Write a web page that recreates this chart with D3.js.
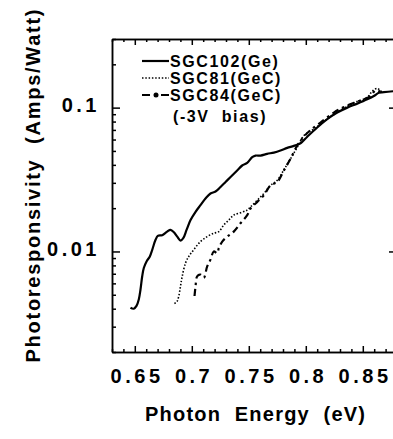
<!DOCTYPE html>
<html>
<head>
<meta charset="utf-8">
<script src="https://cdn.jsdelivr.net/npm/d3@7"></script>
<style>
  body { margin: 0; background: #fff; }
  svg { display: block; }
  text { font-family: "Liberation Sans", Arial, Helvetica, sans-serif; font-weight: bold; fill: #000; }
  .axis path, .axis line { stroke: #000; stroke-width: 1.5; }
</style>
</head>
<body>
<div id="chart"></div>
<script>
// photon energy (eV) / photoresponsivity (A/W)
var ge102_x = [0.6462, 0.6491, 0.6515, 0.6535, 0.6550, 0.6565, 0.6579, 0.6603, 0.6632, 0.6653, 0.6682, 0.6702, 0.6740, 0.6784, 0.6813, 0.6843, 0.6872, 0.6902, 0.6925, 0.6954, 0.6989, 0.7033, 0.7076, 0.7120, 0.7164, 0.7208, 0.7252, 0.7296, 0.7340, 0.7398, 0.7442, 0.7486, 0.7530, 0.7559, 0.7603, 0.7661, 0.7720, 0.7778, 0.7837, 0.7895, 0.7954, 0.8013, 0.8100, 0.8188, 0.8276, 0.8364, 0.8451, 0.8539, 0.8597, 0.8641, 0.8685, 0.8767];
var ge102_y = [0.00406, 0.0040, 0.00418, 0.00464, 0.00544, 0.00672, 0.00768, 0.00853, 0.00924, 0.01027, 0.01205, 0.01283, 0.01298, 0.01374, 0.01412, 0.0136, 0.01268, 0.0119, 0.01236, 0.01412, 0.01655, 0.01888, 0.0210, 0.02335, 0.0253, 0.0261, 0.0281, 0.0304, 0.0329, 0.0366, 0.0396, 0.0413, 0.0452, 0.0464, 0.0464, 0.0477, 0.0487, 0.0503, 0.0525, 0.0542, 0.0565, 0.0628, 0.0728, 0.0832, 0.0924, 0.100, 0.1066, 0.1143, 0.1205, 0.127, 0.128, 0.130];

var gec81_x = [0.6848, 0.6872, 0.6886, 0.6901, 0.6916, 0.6945, 0.6974, 0.7018, 0.7076, 0.7135, 0.7193, 0.7237, 0.7281, 0.7325, 0.7368, 0.7427, 0.7486, 0.7515, 0.7574, 0.7632, 0.7690, 0.7749, 0.7808, 0.7866, 0.7925, 0.7983, 0.8071, 0.8188, 0.8305, 0.8422, 0.8539, 0.8583, 0.8627, 0.8671];
var gec81_y = [0.00434, 0.00452, 0.0049, 0.00574, 0.00672, 0.00832, 0.00924, 0.0103, 0.01172, 0.01268, 0.0134, 0.01374, 0.01528, 0.01655, 0.0179, 0.0186, 0.0194, 0.0204, 0.0227, 0.0253, 0.0288, 0.0312, 0.0370, 0.0441, 0.053, 0.0638, 0.071, 0.0832, 0.096, 0.108, 0.118, 0.130, 0.136, 0.127];

var gec84_x = [0.7024, 0.7033, 0.7047, 0.7076, 0.7105, 0.7135, 0.7164, 0.7193, 0.7223, 0.7237, 0.7267, 0.7311, 0.7368, 0.7427, 0.7486, 0.7515, 0.7574, 0.7632, 0.7690, 0.7749, 0.7808, 0.7866, 0.7925, 0.7983, 0.8041, 0.8129, 0.8246, 0.8334, 0.8422, 0.8509, 0.8568, 0.8612, 0.8656];
var gec84_y = [0.0049, 0.00574, 0.00672, 0.0069, 0.00656, 0.00788, 0.00877, 0.0100, 0.00974, 0.01055, 0.01172, 0.01268, 0.01374, 0.0157, 0.0179, 0.0199, 0.0221, 0.0246, 0.0288, 0.0304, 0.0366, 0.0441, 0.0545, 0.0628, 0.0698, 0.0788, 0.0924, 0.101, 0.108, 0.1143, 0.1205, 0.1318, 0.1289];

var xMajor = [0.65, 0.7, 0.75, 0.8, 0.85];
var xLabels = ["0.65", "0.7", "0.75", "0.8", "0.85"];
var yMajor = [0.01, 0.1];
var yLabels = ["0.01", "0.1"];
var legendNames = ["SGC102(Ge)", "SGC81(GeC)", "SGC84(GeC)"];

var width = 393, height = 439,
  mLeft = 112, mTop = 39, plotW = 285, plotH = 313;

var svg = d3.select("#chart").append("svg")
  .attr("width", width)
  .attr("height", height);

var x = d3.scaleLinear().domain([0.63, 0.88]).range([mLeft, mLeft + plotW]);
var y = d3.scaleLog().domain([0.002, 0.3]).range([mTop + plotH, mTop]);

var xMinor = d3.range(63, 89).map(function(d) { return d / 100; })
  .filter(function(d) { return xMajor.indexOf(d) < 0; });
var yMinor = [];
[0.001, 0.01, 0.1].forEach(function(dec) {
  for (var k = 2; k <= 9; k++) {
    var v = +(dec * k).toPrecision(3);
    if (v >= 0.002 && v <= 0.3) yMinor.push(v);
  }
});

function fmt(list, labels) {
  return function(d) { return labels[list.indexOf(d)]; };
}

// bottom
svg.append("g").attr("class", "axis")
  .attr("transform", `translate(0,${mTop + plotH})`)
  .call(d3.axisBottom(x).tickValues(xMinor).tickSize(-3).tickSizeOuter(0).tickFormat(""));
var xax = svg.append("g").attr("class", "axis")
  .attr("transform", `translate(0,${mTop + plotH})`)
  .call(d3.axisBottom(x).tickValues(xMajor).tickSize(-6).tickSizeOuter(0)
    .tickPadding(17).tickFormat(fmt(xMajor, xLabels)));
xax.selectAll("text").style("font-size", "20px").style("letter-spacing", "3.5px")
  .attr("dx", "1.75px");

// top
svg.append("g").attr("class", "axis")
  .attr("transform", `translate(0,${mTop})`)
  .call(d3.axisTop(x).tickValues(xMinor).tickSize(-3).tickSizeOuter(0).tickFormat(""));
svg.append("g").attr("class", "axis")
  .attr("transform", `translate(0,${mTop})`)
  .call(d3.axisTop(x).tickValues(xMajor).tickSize(-6).tickSizeOuter(0).tickFormat(""));

// left
svg.append("g").attr("class", "axis")
  .attr("transform", `translate(${mLeft},0)`)
  .call(d3.axisLeft(y).tickValues(yMinor).tickSize(-4).tickSizeOuter(0).tickFormat(""));
var yax = svg.append("g").attr("class", "axis")
  .attr("transform", `translate(${mLeft},0)`)
  .call(d3.axisLeft(y).tickValues(yMajor).tickSize(-8).tickSizeOuter(0)
    .tickPadding(12).tickFormat(fmt(yMajor, yLabels)));
yax.selectAll("text").style("font-size", "20px").style("letter-spacing", "3.5px")
  .attr("dy", "0.2em");

// right
svg.append("g").attr("class", "axis")
  .attr("transform", `translate(${mLeft + plotW},0)`)
  .call(d3.axisRight(y).tickValues(yMinor).tickSize(-4).tickSizeOuter(0).tickFormat(""));
svg.append("g").attr("class", "axis")
  .attr("transform", `translate(${mLeft + plotW},0)`)
  .call(d3.axisRight(y).tickValues(yMajor).tickSize(-8).tickSizeOuter(0).tickFormat(""));

// curves
var line = d3.line()
  .x(function(d) { return x(d[0]); })
  .y(function(d) { return y(d[1]); })
  .curve(d3.curveCatmullRom);

var series = [
  { xs: ge102_x, ys: ge102_y, w: 2.2, dash: null },
  { xs: gec81_x, ys: gec81_y, w: 1.6, dash: "1.5,1.8" },
  { xs: gec84_x, ys: gec84_y, w: 2.2, dash: "7,4,2.5,4" }
];

series.forEach(function(s) {
  svg.append("path")
    .datum(d3.zip(s.xs, s.ys))
    .attr("d", line)
    .attr("fill", "none")
    .attr("stroke", "#000")
    .attr("stroke-width", s.w)
    .attr("stroke-dasharray", s.dash);
});

// legend
var legY = [61, 78, 95];
legendNames.forEach(function(name, i) {
  var s = series[i];
  svg.append("line")
    .attr("x1", 142).attr("x2", 169)
    .attr("y1", legY[i]).attr("y2", legY[i])
    .attr("stroke", "#000")
    .attr("stroke-width", s.w)
    .attr("stroke-dasharray", i == 2 ? "8,4,3,4" : s.dash);
  svg.append("text")
    .attr("x", 170).attr("y", legY[i] + 6)
    .style("font-size", "16px").style("letter-spacing", "1.6px")
    .text(name);
});
svg.append("circle").attr("cx", 156).attr("cy", legY[2]).attr("r", 2.5).attr("fill", "#000");
svg.append("text")
  .attr("x", 173).attr("y", 122)
  .style("font-size", "16px").style("letter-spacing", "1.6px")
  .attr("xml:space", "preserve")
  .text("(-3V  bias)");

// axis titles
svg.append("text")
  .attr("x", 255).attr("y", 421)
  .attr("text-anchor", "middle")
  .style("font-size", "20px")
  .attr("textLength", 220)
  .attr("xml:space", "preserve")
  .text("Photon  Energy  (eV)");

svg.append("text")
  .attr("transform", "translate(40,186) rotate(-90)")
  .attr("text-anchor", "middle")
  .style("font-size", "20px")
  .attr("textLength", 353)
  .attr("xml:space", "preserve")
  .text("Photoresponsivity  (Amps/Watt)");
</script>
</body>
</html>
